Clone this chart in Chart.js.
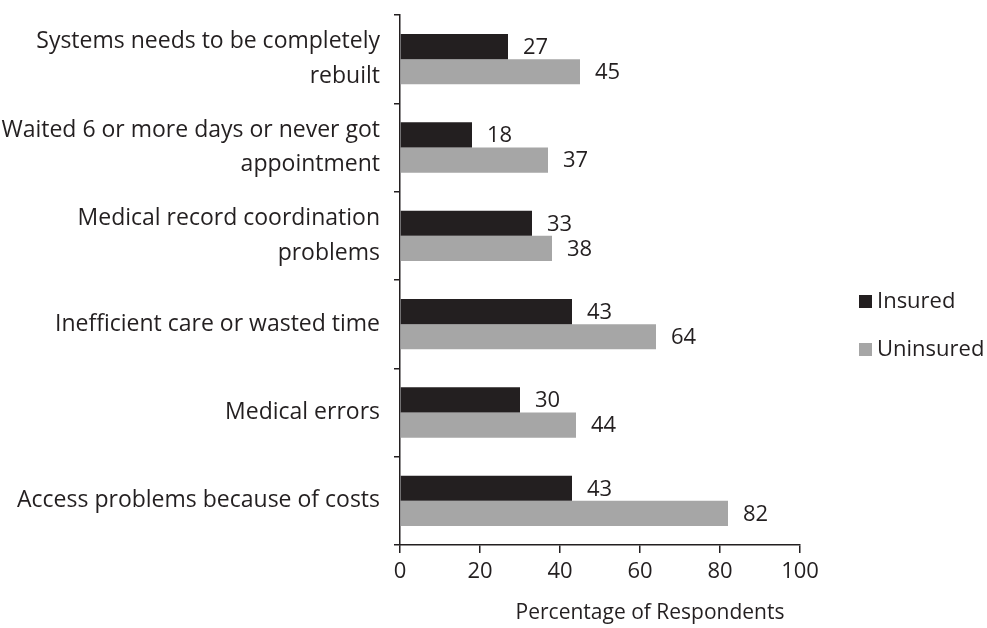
<!DOCTYPE html>
<html>
<head>
<meta charset="utf-8">
<script src="https://cdn.jsdelivr.net/npm/chart.js@4"></script>
<style>
  html, body { margin: 0; padding: 0; background: #fff; }
  #wrap { width: 987px; height: 628px; }
</style>
</head>
<body>
<div id="wrap"><canvas id="chart"></canvas></div>
<script>
const categories = [
  ["Systems needs to be completely", "rebuilt"],
  ["Waited 6 or more days or never got", "appointment"],
  ["Medical record coordination", "problems"],
  "Inefficient care or wasted time",
  "Medical errors",
  "Access problems because of costs",
];
const insured = [27, 18, 33, 43, 30, 43];
const uninsured = [45, 37, 38, 64, 44, 82];
const xTicks = [0, 20, 40, 60, 80, 100];
const xTitle = "Percentage of Respondents";

const FONT = "'Open Sans', sans-serif";
const TEXT = "#231f20";

// numbers to the right of each bar
const barValues = {
  id: "barValues",
  afterDatasetsDraw(chart) {
    const ctx = chart.ctx;
    ctx.save();
    ctx.font = "22px " + FONT;
    ctx.fillStyle = TEXT;
    ctx.textAlign = "left";
    ctx.textBaseline = "middle";
    chart.data.datasets.forEach((ds, i) => {
      chart.getDatasetMeta(i).data.forEach((bar, j) => {
        ctx.fillText(ds.data[j], bar.x + 15, bar.y + 1);
      });
    });
    ctx.restore();
  },
};

// legend at the right and the x axis title
const sideText = {
  id: "sideText",
  afterDraw(chart) {
    const ctx = chart.ctx;
    ctx.save();
    ctx.font = "21px " + FONT;
    ctx.fillStyle = TEXT;
    ctx.textAlign = "center";
    ctx.textBaseline = "middle";
    ctx.fillText(xTitle, 650, 613);

    ctx.font = "22px " + FONT;
    ctx.textAlign = "left";
    chart.data.datasets.forEach((ds, i) => {
      const y = 302 + i * 48;
      ctx.fillStyle = ds.backgroundColor;
      ctx.fillRect(859, y - 7, 13, 13);
      ctx.fillStyle = TEXT;
      ctx.fillText(ds.label, 877, y);
    });
    ctx.restore();
  },
};

new Chart(document.getElementById("chart"), {
  type: "bar",
  data: {
    labels: categories,
    datasets: [
      { label: "Insured", data: insured, backgroundColor: "#231f20" },
      { label: "Uninsured", data: uninsured, backgroundColor: "#a6a6a6" },
    ],
  },
  options: {
    indexAxis: "y",
    responsive: true,
    maintainAspectRatio: false,
    animation: false,
    categoryPercentage: 0.57,
    barPercentage: 1.0,
    layout: { padding: { top: 15, right: 187, bottom: 0, left: 0 } },
    scales: {
      x: {
        min: 0,
        max: 100,
        afterBuildTicks: (s) => { s.ticks = xTicks.map((v) => ({ value: v })); },
        afterFit: (s) => { s.height = 83; },
        border: { color: TEXT, width: 1.5 },
        grid: { drawOnChartArea: false, tickLength: 8, color: TEXT, lineWidth: 1.5 },
        ticks: { color: TEXT, font: { family: FONT, size: 22 }, padding: 6 },
      },
      y: {
        afterFit: (s) => {
          s.width = 400;
          s.paddingTop = 0;
          s.paddingBottom = 0;
        },
        border: { color: TEXT, width: 1.5 },
        grid: { drawOnChartArea: false, tickLength: 6, color: TEXT, lineWidth: 1.5 },
        ticks: { color: TEXT, font: { family: FONT, size: 23, lineHeight: 1.5 }, padding: 14 },
      },
    },
    plugins: {
      legend: { display: false },
      tooltip: { enabled: false },
    },
  },
  plugins: [barValues, sideText],
});
</script>
</body>
</html>
